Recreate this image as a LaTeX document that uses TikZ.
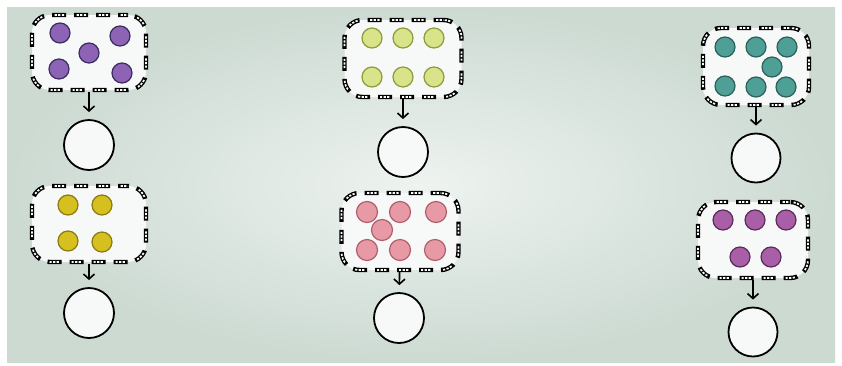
\documentclass[tikz,border=0pt]{standalone}
\usetikzlibrary{arrows.meta}
\definecolor{bgin}{HTML}{EEF3F0}
\definecolor{bgout}{HTML}{CCDAD2}
\definecolor{boxfill}{HTML}{F7F9F8}
\definecolor{purF}{HTML}{8C63B5}\definecolor{purD}{HTML}{3C2C60}
\definecolor{ygF}{HTML}{D8E38A}\definecolor{ygD}{HTML}{8F9A3A}
\definecolor{tealF}{HTML}{4E9F95}\definecolor{tealD}{HTML}{2D5F5A}
\definecolor{yelF}{HTML}{D6C020}\definecolor{yelD}{HTML}{8C7A10}
\definecolor{pinkF}{HTML}{E79AA5}\definecolor{pinkD}{HTML}{B0606C}
\definecolor{magF}{HTML}{A85FA8}\definecolor{magD}{HTML}{5A2A5A}
\tikzset{
  setbox/.style={rectangle, rounded corners=18pt, fill=boxfill, draw=black,
    line width=4.4pt, dash pattern=on 14pt off 8pt, dash phase=4pt,
    minimum width=#1, inner sep=0pt,
    postaction={draw=white, line width=1.7pt,
      dash pattern=on 2.2pt off 1.4pt on 2.2pt off 1.4pt on 2.2pt off 12.6pt, dash phase=24pt}},
  answer/.style={circle, draw=black, line width=1.8pt, fill=boxfill, minimum size=#1, inner sep=0pt},
  dot/.style 2 args={circle, fill=#1, draw=#2, line width=1.2pt, minimum size=20pt, inner sep=0pt},
  arr/.style={-{Straight Barb[length=5pt,width=11pt,line width=1.6pt]}, line width=1.6pt, shorten >=7pt, shorten <=0pt}
}
\begin{document}
\begin{tikzpicture}[x=1pt,y=-1pt]
\useasboundingbox (0,0) rectangle (842,365);
\fill[white] (0,0) rectangle (842,365);
\shade[inner color=bgin, outer color=bgout] (7,7) rectangle (835,362);

% group 1
\node[setbox=114pt, minimum height=75pt] (b1) at (89,52.5) {};
\node[dot={purF}{purD}] (d11) at (60,33) {};
\node[dot={purF}{purD}] (d12) at (120,36) {};
\node[dot={purF}{purD}] (d13) at (89,53) {};
\node[dot={purF}{purD}] (d14) at (59,69) {};
\node[dot={purF}{purD}] (d15) at (122,73) {};
\node[answer=50pt] (c1) at (89,145) {};
\draw[arr] (b1) -- (c1);

% group 2
\node[setbox=117pt, minimum height=77pt] (b2) at (403,58.5) {};
\node[dot={ygF}{ygD}] (d21) at (372,38) {};
\node[dot={ygF}{ygD}] (d22) at (403,38) {};
\node[dot={ygF}{ygD}] (d23) at (434,38) {};
\node[dot={ygF}{ygD}] (d24) at (372,77) {};
\node[dot={ygF}{ygD}] (d25) at (403,77) {};
\node[dot={ygF}{ygD}] (d26) at (434,77) {};
\node[answer=50pt] (c2) at (403,152) {};
\draw[arr] (b2) -- (c2);

% group 3
\node[setbox=106pt, minimum height=77pt] (b3) at (756,66.5) {};
\node[dot={tealF}{tealD}] (d31) at (725,47) {};
\node[dot={tealF}{tealD}] (d32) at (756,47) {};
\node[dot={tealF}{tealD}] (d33) at (787,47) {};
\node[dot={tealF}{tealD}] (d34) at (772,67) {};
\node[dot={tealF}{tealD}] (d35) at (725,86) {};
\node[dot={tealF}{tealD}] (d36) at (756,87) {};
\node[dot={tealF}{tealD}] (d37) at (786,87) {};
\node[answer=49pt] (c3) at (756,158) {};
\draw[arr] (b3) -- (c3);

% group 4
\node[setbox=114pt, minimum height=76pt] (b4) at (89,224) {};
\node[dot={yelF}{yelD}] (d41) at (68,205) {};
\node[dot={yelF}{yelD}] (d42) at (102,205) {};
\node[dot={yelF}{yelD}] (d43) at (68,241) {};
\node[dot={yelF}{yelD}] (d44) at (102,242) {};
\node[answer=50pt] (c4) at (89,313) {};
\draw[arr] (b4) -- (c4);

% group 5
\node[setbox=117pt, minimum height=77pt] (b5) at (400,231.5) {};
\node[dot={pinkF}{pinkD}, minimum size=21pt] (d51) at (367,212) {};
\node[dot={pinkF}{pinkD}, minimum size=21pt] (d52) at (400,212) {};
\node[dot={pinkF}{pinkD}, minimum size=21pt] (d53) at (436,212) {};
\node[dot={pinkF}{pinkD}, minimum size=21pt] (d54) at (382,230) {};
\node[dot={pinkF}{pinkD}, minimum size=21pt] (d55) at (367,250) {};
\node[dot={pinkF}{pinkD}, minimum size=21pt] (d56) at (400,250) {};
\node[dot={pinkF}{pinkD}, minimum size=21pt] (d57) at (435,250) {};
\node[answer=50pt] (c5) at (399,318) {};
\draw[arr] (b5) -- (c5);

% group 6
\node[setbox=110pt, minimum height=76pt] (b6) at (753,240) {};
\node[dot={magF}{magD}] (d61) at (723,220) {};
\node[dot={magF}{magD}] (d62) at (755,220) {};
\node[dot={magF}{magD}] (d63) at (786,220) {};
\node[dot={magF}{magD}] (d64) at (740,257) {};
\node[dot={magF}{magD}] (d65) at (771,257) {};
\node[answer=49pt] (c6) at (753,332) {};
\draw[arr] (b6) -- (c6);
\end{tikzpicture}
\end{document}
